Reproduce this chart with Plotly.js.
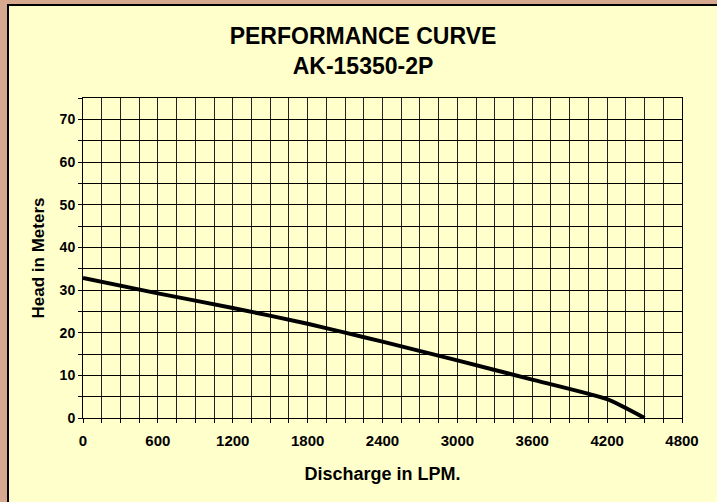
<!DOCTYPE html>
<html>
<head>
<meta charset="utf-8">
<script src="https://cdn.plot.ly/plotly-3.0.1.min.js"></script>
<style>
  html, body { margin: 0; padding: 0; width: 717px; height: 502px; overflow: hidden; background: #D5A88F; }
  #frame { position: absolute; left: 7px; top: 4px; width: 710px; height: 498px; border-left: 2px solid #000; border-top: 2px solid #000; box-sizing: border-box; background: #FFFFCC; }
  #chart { position: absolute; left: 9px; top: 6px; width: 708px; height: 496px; }
</style>
</head>
<body>
<div id="frame"></div>
<div id="chart"></div>
<script>
// Data
const dischargeLPM = [0, 600, 1200, 1800, 2100, 2400, 3000, 3600, 4200, 4500];
const headMeters   = [32.8, 29.2, 25.8, 22.1, 20.0, 17.9, 13.5, 9.0, 4.4, 0];

const xTickVals = [];
const xTickText = [];
for (let v = 0; v <= 4800; v += 150) { xTickVals.push(v); xTickText.push(v % 600 === 0 ? String(v) : ''); }
const yTickVals = [];
const yTickText = [];
for (let v = 0; v <= 75; v += 5) { yTickVals.push(v); yTickText.push(v % 10 === 0 ? String(v) : ''); }

const fontFamily = 'Liberation Sans, Arial, sans-serif';

const trace = {
  x: dischargeLPM,
  y: headMeters,
  type: 'scatter',
  mode: 'lines',
  line: { color: '#000', width: 4, shape: 'spline', smoothing: 0.5 },
  hoverinfo: 'skip'
};

const layout = {
  width: 708,
  height: 496,
  paper_bgcolor: '#FFFFCC',
  plot_bgcolor: '#FFFFCC',
  margin: { l: 73.5, r: 35, t: 92.4, b: 84.3 },
  showlegend: false,
  title: {
    text: 'PERFORMANCE CURVE<br>AK-15350-2P',
    x: 0.5, xanchor: 'center',
    y: 0.924, yanchor: 'top',
    font: { family: fontFamily, size: 23, color: '#000', weight: 'bold' }
  },
  xaxis: {
    range: [0, 4800],
    tickmode: 'array', tickvals: xTickVals, ticktext: xTickText,
    ticks: 'outside', ticklen: 4, tickwidth: 1, tickcolor: '#000',
    ticklabelstandoff: 5,
    showgrid: true, gridcolor: '#222', gridwidth: 1,
    showline: true, linecolor: '#000', linewidth: 1, mirror: true,
    zeroline: false,
    tickfont: { family: fontFamily, size: 15, color: '#000', weight: 'bold' },
    title: { text: 'Discharge in LPM.', standoff: 19, font: { family: fontFamily, size: 18, color: '#000', weight: 'bold' } }
  },
  yaxis: {
    range: [0, 75],
    tickmode: 'array', tickvals: yTickVals, ticktext: yTickText,
    ticks: 'outside', ticklen: 4, tickwidth: 1, tickcolor: '#000',
    showgrid: true, gridcolor: '#000', gridwidth: 1,
    showline: true, linecolor: '#000', linewidth: 1, mirror: true,
    zeroline: false,
    tickfont: { family: fontFamily, size: 14, color: '#000', weight: 'bold' },
    title: { text: 'Head in Meters', standoff: 10, font: { family: fontFamily, size: 17, color: '#000', weight: 'bold' } }
  }
};

Plotly.newPlot('chart', [trace], layout, { displayModeBar: false, staticPlot: true });
</script>
</body>
</html>
